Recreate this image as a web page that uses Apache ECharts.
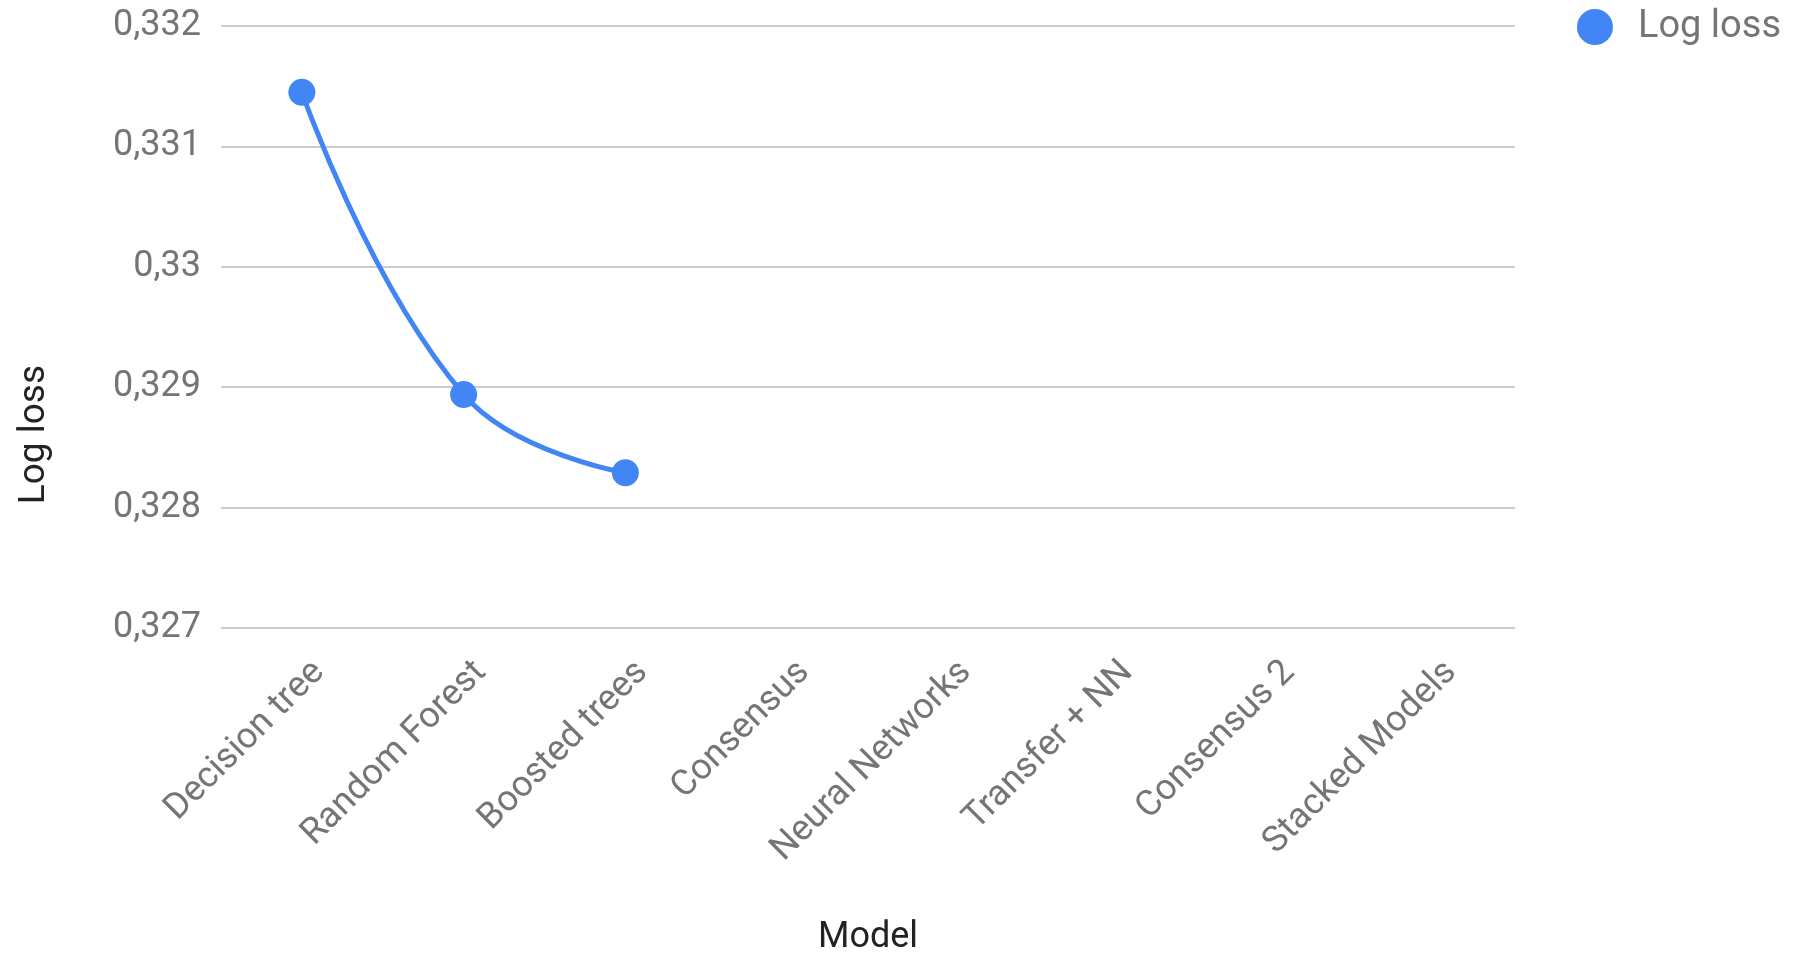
<!DOCTYPE html>
<html>
<head>
<meta charset="utf-8">
<script src="https://cdn.jsdelivr.net/npm/echarts@6/dist/echarts.min.js"></script>
<style>
  html, body { margin: 0; padding: 0; background: #fff; }
  #chart { width: 1800px; height: 953px; }
</style>
</head>
<body>
<div id="chart"></div>
<script>
// Model names along the x axis
const models = ['Decision tree', 'Random Forest', 'Boosted trees', 'Consensus',
                'Neural Networks', 'Transfer + NN', 'Consensus 2', 'Stacked Models'];
// Log loss per model (only the first three have results so far)
const logLoss = [0.33145, 0.32894, 0.32829, null, null, null, null, null];
// Value axis range and step
const yMin = 0.327;
const yMax = 0.332;
const yStep = 0.001;

const blue = '#4285f4';
const grey = '#757575';
const font = 'Roboto, "Noto Sans", sans-serif';

const chart = echarts.init(document.getElementById('chart'), null, { renderer: 'canvas' });

chart.setOption({
  backgroundColor: '#ffffff',
  animation: false,
  grid: {
    left: 221, right: 285, top: 26, bottom: 325,
    containLabel: false,
    outerBoundsMode: 'none'
  },
  legend: {
    data: ['Log loss'],
    right: 14,
    top: 3,
    icon: 'circle',
    itemWidth: 36,
    itemHeight: 36,
    textStyle: { color: grey, fontSize: 38, fontFamily: font, padding: [0, 0, 0, 20] }
  },
  xAxis: {
    type: 'category',
    data: models,
    boundaryGap: true,
    name: 'Model',
    nameLocation: 'middle',
    nameGap: 292,
    nameTextStyle: { color: '#222', fontSize: 36, fontFamily: font },
    axisLine: { show: false },
    axisTick: { show: false },
    axisLabel: {
      rotate: 45,
      interval: 0,
      margin: 22,
      verticalAlign: 'top',
      formatter: v => `{t|${v}}`,
      rich: { t: { padding: [6, 0, 0, 0], color: grey, fontSize: 36, fontFamily: font } },
      color: grey,
      fontSize: 36,
      fontFamily: font
    },
    splitLine: { show: false }
  },
  yAxis: {
    type: 'value',
    min: yMin,
    max: yMax,
    interval: yStep,
    axisLine: { show: false },
    axisTick: { show: false },
    axisLabel: {
      margin: 20,
      color: grey,
      fontSize: 36,
      fontFamily: font,
      formatter: v => String(+v.toFixed(4)).replace('.', ',')
    },
    splitLine: { lineStyle: { color: '#cccccc', width: 2 } }
  },
  graphic: [{
    type: 'text',
    left: 16,
    top: 365,
    rotation: Math.PI / 2,
    style: {
      text: 'Log loss',
      fill: '#222',
      fontSize: 37,
      fontFamily: font
    }
  }],
  series: [{
    name: 'Log loss',
    type: 'line',
    data: logLoss,
    smooth: 0.45,
    connectNulls: false,
    symbol: 'circle',
    symbolSize: 27,
    itemStyle: { color: blue },
    lineStyle: { color: blue, width: 5 }
  }]
});
</script>
</body>
</html>
